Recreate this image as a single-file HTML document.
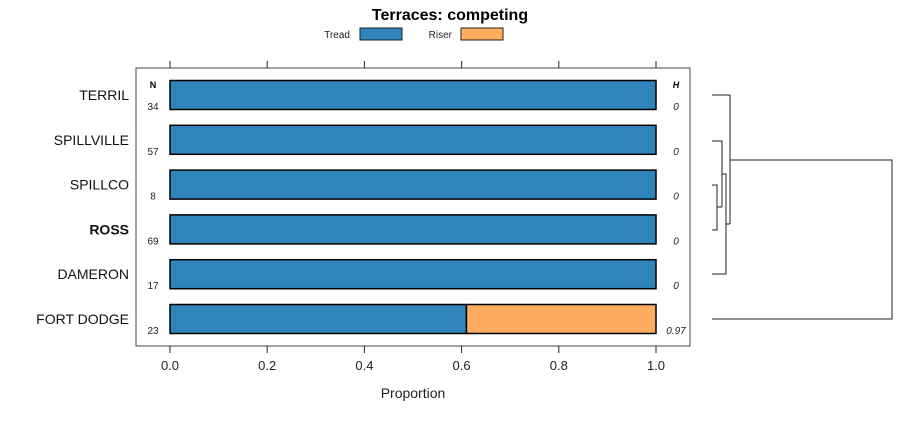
<!DOCTYPE html>
<html><head><meta charset="utf-8"><style>
body{margin:0;background:#fff;}
svg{font-family:"Liberation Sans",sans-serif;}
</style></head><body>
<svg width="900" height="420" xmlns="http://www.w3.org/2000/svg">
<text x="450" y="20" text-anchor="middle" font-size="16" font-weight="bold">Terraces: competing</text>
<g>
<text x="350" y="38" text-anchor="end" font-size="10" fill="#222">Tread</text>
<rect x="360" y="28" width="42" height="12" fill="#2e84bb" stroke="#222"/>
<text x="452" y="38" text-anchor="end" font-size="10" fill="#222">Riser</text>
<rect x="461" y="28" width="42" height="12" fill="#fead60" stroke="#222"/>
</g>
<rect x="136" y="68" width="554" height="278" fill="none" stroke="#444"/>
<text x="153" y="88" text-anchor="middle" font-size="9" font-weight="bold">N</text>
<text x="676" y="88" text-anchor="middle" font-size="9" font-weight="bold" font-style="italic">H</text>
<g id="bars"></g>
<g id="axes"></g>
<text x="413" y="398" text-anchor="middle" font-size="14" fill="#222">Proportion</text>
<g id="dendro" stroke="#222" fill="none" stroke-width="1">
<path d="M712 95H730V224" /><path d="M712 141H722V207"/><path d="M712 185H717V230H712"/><path d="M717 207H722"/>
<path d="M722 174H726V274H712"/><path d="M726 224H730"/><path d="M730 160H892V319H712"/>
</g>
</svg>
<script>
const categories=["TERRIL","SPILLVILLE","SPILLCO","ROSS","DAMERON","FORT DODGE"];
const tread=[1,1,1,1,1,0.61];
const riser=[0,0,0,0,0,0.39];
const nVals=["34","57","8","69","17","23"];
const hVals=["0","0","0","0","0","0.97"];
const ticks=[0,0.2,0.4,0.6,0.8,1.0];
const tickLabels=["0.0","0.2","0.4","0.6","0.8","1.0"];
const NS="http://www.w3.org/2000/svg";
const x=v=>170+v*486;
const y=i=>95+i*44.8;
function mk(t,a,p){const e=document.createElementNS(NS,t);for(const k in a)e.setAttribute(k,a[k]);p.appendChild(e);return e;}
const bars=document.getElementById('bars'),axes=document.getElementById('axes');
categories.forEach((c,i)=>{
  const cy=y(i);
  const r1=mk('rect',{x:x(0),y:cy-14.5,width:x(tread[i])-x(0),height:29,fill:'#2e84bb',stroke:'#000','stroke-width':1.5},bars);
  
  
  if(riser[i]>0){
    const r2=mk('rect',{x:x(tread[i]),y:cy-14.5,width:x(tread[i]+riser[i])-x(tread[i]),height:29,fill:'#fead60',stroke:'#000','stroke-width':1.5},bars);
    
    
  }
  const l=mk('text',{x:129,y:cy+5,'text-anchor':'end','font-size':14,fill:'#111','font-weight':c==='ROSS'?'bold':'normal'},bars);l.textContent=c;
  
  
  const n=mk('text',{x:153,y:cy+15,'text-anchor':'middle','font-size':10,fill:'#222'},bars);n.textContent=nVals[i];
  
  
  const h=mk('text',{x:676,y:cy+15,'text-anchor':'middle','font-size':10,'font-style':'italic',fill:'#222'},bars);h.textContent=hVals[i];
  
  
});
ticks.forEach((t,i)=>{
  mk('line',{x1:x(t),x2:x(t),y1:61,y2:68,stroke:'#222'},axes);
  mk('line',{x1:x(t),x2:x(t),y1:346,y2:353,stroke:'#222'},axes);
  const tl=mk('text',{x:x(t),y:370,'text-anchor':'middle','font-size':13,fill:'#222'},axes);tl.textContent=tickLabels[i];
  
  
});
</script>
</body></html>
